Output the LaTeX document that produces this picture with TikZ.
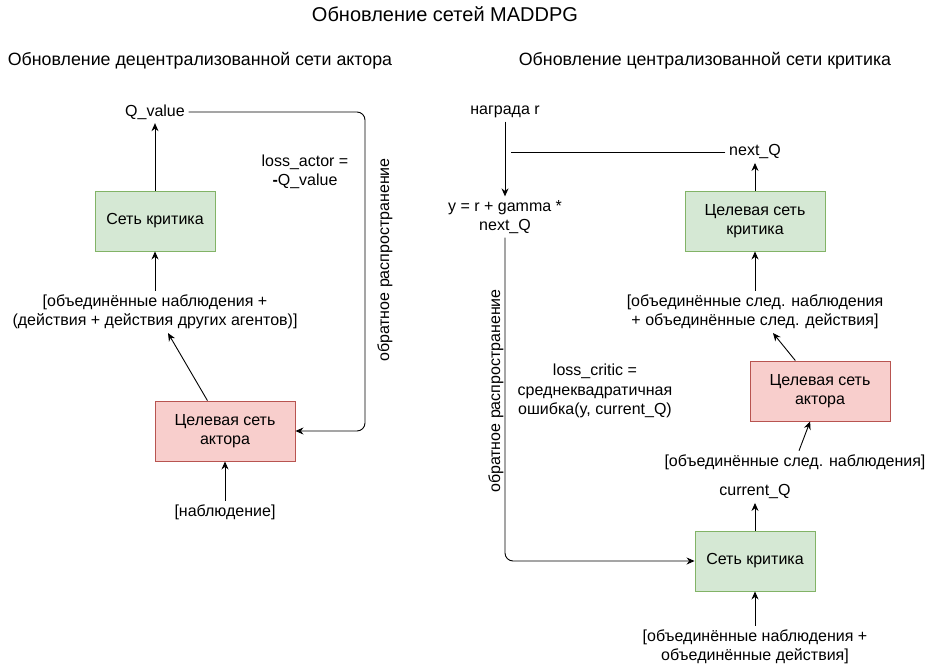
\documentclass[tikz,border=0pt]{standalone}
\usepackage{fontspec}
\setmainfont{Liberation Sans}
\usetikzlibrary{arrows.meta,calc}

\definecolor{critfill}{HTML}{D5E8D4}
\definecolor{critline}{HTML}{82B366}
\definecolor{actfill}{HTML}{F8CECC}
\definecolor{actline}{HTML}{B85450}

\begin{document}
\begin{tikzpicture}[x=1pt, y=-1pt, line width=0.9pt, >={Stealth[length=8pt, width=7pt]},
    every node/.style={font=\fontsize{16}{19.5}\selectfont, align=center},
    critbox/.style={draw=critline, fill=critfill, minimum width=120pt, minimum height=60pt},
    actbox/.style={draw=actline, fill=actfill, minimum width=140pt, minimum height=60pt}]
    \useasboundingbox (0,0) rectangle (937,666);

    % titles
    \node (title) at (445,14) {\fontsize{20}{24}\selectfont Обновление сетей MADDPG};
    \node (ltitle) at (200,61) {\fontsize{17.8}{21}\selectfont Обновление децентрализованной сети актора};
    \node (rtitle) at (705,61) {\fontsize{17.8}{21}\selectfont Обновление централизованной сети критика};

    % actor update
    \node (qval) at (155,112) {Q\_value};
    \node[critbox] (lcritic) at (155,221) {Сеть критика};
    \node (lobs) at (155,312) {[объединённые наблюдения +\\(действия + действия других агентов)]};
    \node[actbox] (lactor) at (225,431) {Целевая сеть\\актора};
    \node (obs) at (225,512) {[наблюдение]};
    \node (lossactor) at (305,172) {loss\_actor =\\\textbf{-}Q\_value};
    \coordinate (lbp) at (365,300);
    \node[rotate=90] (lbptext) at (385,260) {обратное распространение};

    \draw[->] (lcritic.north) -- (qval.south);
    \draw[->] (lobs.north) -- (lcritic.south);
    \draw[->] (lactor.120) -- ($(lobs.south)+(13,0)$);
    \draw[->] (obs.north) -- (lactor.south);
    \draw[->, rounded corners=8pt] (qval.east) -- (qval.east -| lbp) -- (lactor.east -| lbp) -- (lactor.east);

    % critic update
    \node (reward) at (505,112) {награда r};
    \node (target) at (505,217) {y = r + gamma *\\next\_Q};
    \node (nextq) at (755,152) {next\_Q};
    \node[critbox, minimum width=140pt] (tcritic) at (755,221) {Целевая сеть\\критика};
    \node (nextobsact) at (755,312) {[объединённые след. наблюдения\\+ объединённые след. действия]};
    \node[actbox] (tactor) at (820,391) {Целевая сеть\\актора};
    \node (nextobs) at (795,462) {[объединённые след. наблюдения]};
    \node (curq) at (755,492) {current\_Q};
    \node[critbox] (critic) at (755,561) {Сеть критика};
    \node (obsact) at (755,647) {[объединённые наблюдения +\\объединённые действия]};
    \node (losscritic) at (595,391) {loss\_critic =\\среднеквадратичная\\ошибка(y, current\_Q)};
    \coordinate (rbp) at (505,400);
    \coordinate (nextqend) at (511,152);
    \node[rotate=90] (rbptext) at (496,391) {обратное распространение};

    \draw[->] (reward.south) -- (target.north);
    \draw (nextq.west) -- (nextqend);
    \draw[->] (tcritic.north) -- (nextq.south);
    \draw[->] (nextobsact.north) -- (tcritic.south);
    \draw[->] (tactor.129) -- ($(nextobsact.south)+(18,0)$);
    \draw[->] ($(nextobs.north)+(4,0)$) -- (tactor.252);
    \draw[->] (critic.north) -- (curq.south);
    \draw[->] (obsact.north) -- (critic.south);
    \draw[->, rounded corners=8pt] (target.south) -- (critic.west -| rbp) -- (critic.west);
\end{tikzpicture}
\end{document}
